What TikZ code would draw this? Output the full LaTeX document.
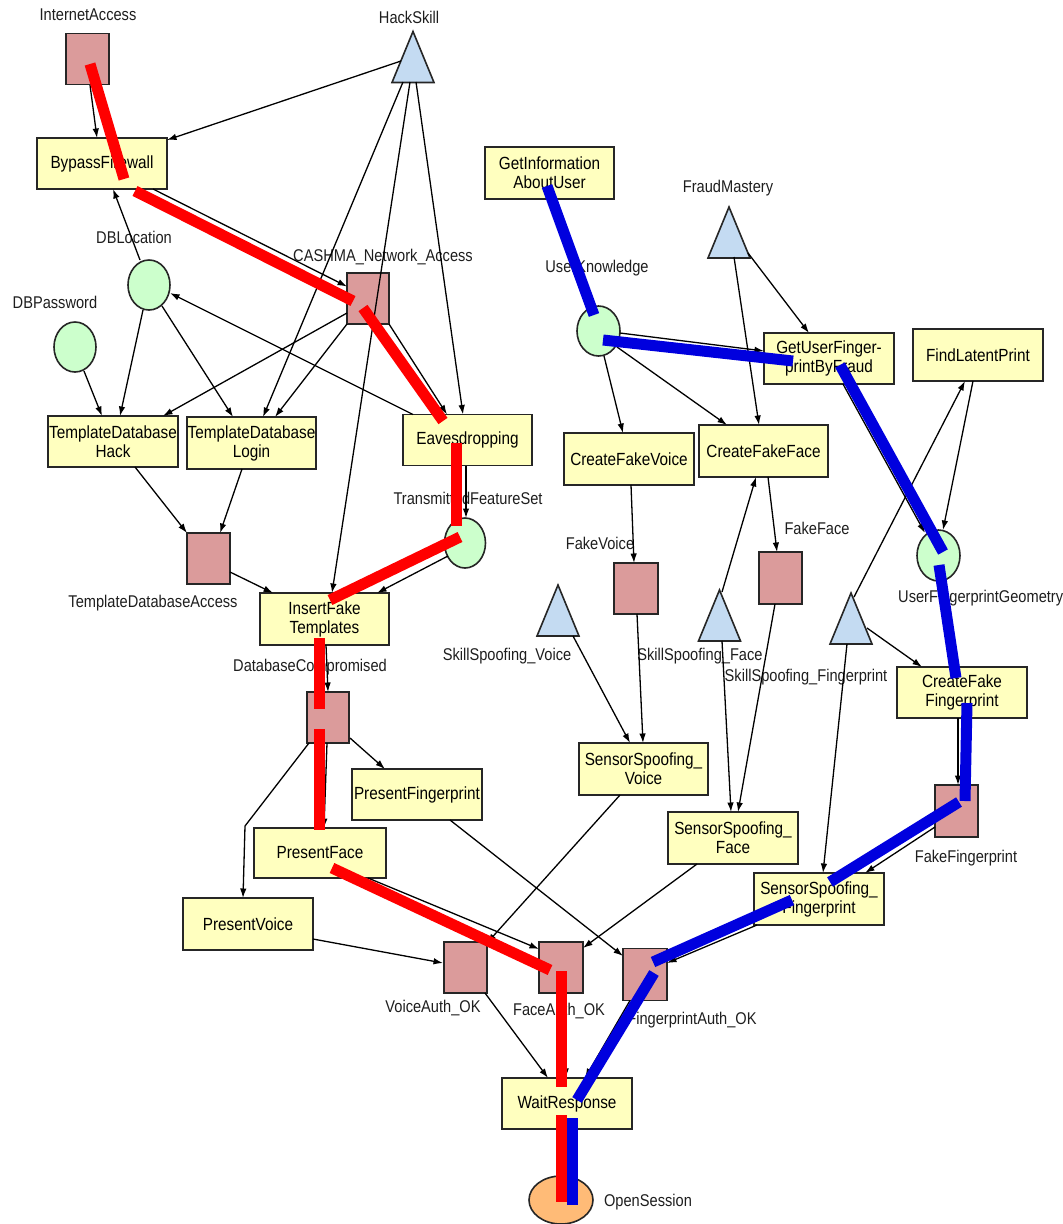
\documentclass[tikz,border=0pt]{standalone}
\usepackage{fontspec}
\setmainfont{Liberation Sans}[FakeStretch=0.86]
\newfontfamily\boxfont{Liberation Sans}[FakeStretch=0.87]
\usetikzlibrary{calc,arrows.meta,shapes.geometric}

\definecolor{boxfill}{RGB}{255,255,191}
\definecolor{evfill}{RGB}{219,155,155}
\definecolor{knfill}{RGB}{204,255,204}
\definecolor{skfill}{RGB}{196,219,242}
\definecolor{goalfill}{RGB}{255,187,119}
\definecolor{redpath}{RGB}{255,0,0}
\definecolor{bluepath}{RGB}{0,0,222}
\definecolor{lbltext}{RGB}{30,30,30}

\tikzset{
  txt/.style={font=\boxfont\fontsize{17.6}{19}\selectfont, align=center, text=black},
  actbox/.style={txt, draw=black!85, line width=1.6pt, fill=boxfill, rectangle, inner sep=0pt,
                 minimum width=130pt, minimum height=51pt},
  evsq/.style={draw=black!85, line width=1.6pt, fill=evfill, rectangle, inner sep=0pt,
               minimum width=43pt, minimum height=51pt},
  kncirc/.style={draw=black!85, line width=1.6pt, fill=knfill, ellipse, inner sep=0pt,
                 minimum width=42pt, minimum height=50pt},
  goal/.style={draw=black!85, line width=1.6pt, fill=goalfill, ellipse, inner sep=0pt,
               minimum width=64pt, minimum height=48pt},
  tri/.style={draw=black!85, line width=1.6pt, fill=skfill, line join=miter},
  lbl/.style={font=\fontsize{17}{19}\selectfont, text=lbltext, inner sep=0pt},
  edge/.style={draw=black, line width=1.3pt, -{Latex[length=9.5pt,width=6.5pt]}},
  redhl/.style={draw=redpath, line width=11pt, line cap=butt},
  bluehl/.style={draw=bluepath, line width=11pt, line cap=butt},
}

\newcommand\skilltri[3]{%
  \coordinate (#1) at (#2,#3);
  \draw[tri] ($(#1)+(0,-25.5)$) -- ($(#1)+(21,25.5)$) -- ($(#1)+(-21,25.5)$) -- cycle;}

\begin{document}
\begin{tikzpicture}[x=1pt,y=-1pt]
\useasboundingbox (0,0) rectangle (1063,1224);
\fill[white] (0,0) rectangle (1063,1224);

% ---------- left branch: template database attack ----------
\node[evsq] (inet) at (87.5,59) {};
\node[lbl] (inet-l) at (88,15) {InternetAccess};
\skilltri{hack}{413}{57}
\node[lbl] (hack-l) at (409,17) {HackSkill};
\node[actbox] (bypass) at (102,163.5) {BypassFirewall};
\node[kncirc] (dbloc) at (149,285) {};
\node[lbl] (dbloc-l) at (134,237) {DBLocation};
\node[kncirc] (dbpass) at (75,347) {};
\node[lbl] (dbpass-l) at (55,302) {DBPassword};
\node[evsq, minimum width=42pt] (cashma) at (368,298.5) {};
\node[lbl] (cashma-l) at (383,257) {CASHMA\_Network\_Access};
\node[actbox] (tdhack) at (113,441.5) {TemplateDatabase\\Hack};
\node[actbox, minimum width=129pt, minimum height=52pt] (tdlogin) at (251.5,443) {TemplateDatabase\\Login};
\node[actbox, minimum width=129pt] (eaves) at (467.5,440) {Eavesdropping};
\node[kncirc, minimum width=41pt] (tfs) at (465,543) {};
\node[lbl] (tfs-l) at (468,498) {TransmittedFeatureSet};
\node[evsq] (tdacc) at (208.5,558.5) {};
\node[lbl] (tdacc-l) at (153,603) {TemplateDatabaseAccess};
\node[actbox, minimum width=129pt, minimum height=52pt] (ift) at (324.5,619) {InsertFake\\Templates};
\node[evsq, minimum width=42pt] (dbcomp) at (328,717.5) {};
\node[lbl] (dbcomp-l) at (310,667) {DatabaseCompromised};
\node[actbox] (presfp) at (417,794.5) {PresentFingerprint};
\node[actbox, minimum width=132pt, minimum height=50pt] (presface) at (320,853) {PresentFace};
\node[actbox, minimum height=52pt] (presvoice) at (248,924) {PresentVoice};

% ---------- authentication and goal ----------
\node[evsq] (voiceok) at (465.5,967.5) {};
\node[lbl] (voiceok-l) at (433,1008) {VoiceAuth\_OK};
\node[evsq, minimum width=44pt] (faceok) at (561,967.5) {};
\node[lbl] (faceok-l) at (559,1011) {FaceAuth\_OK};
\node[evsq, minimum width=44pt, minimum height=52pt] (fpok) at (645,974.5) {};
\node[lbl] (fpok-l) at (692,1020) {FingerprintAuth\_OK};
\node[actbox] (wait) at (567,1103.5) {WaitResponse};
\node[goal] (open) at (561,1200) {};
\node[lbl] (open-l) at (648,1202) {OpenSession};

% ---------- right branch: spoofing ----------
\node[actbox, minimum width=129pt, minimum height=52pt] (getinfo) at (549.5,173) {GetInformation\\AboutUser};
\skilltri{fraud}{729}{232.5}
\node[lbl] (fraud-l) at (728,188) {FraudMastery};
\node[kncirc, minimum width=43pt] (userk) at (598.5,331) {};
\node[lbl] (userk-l) at (597,268) {UserKnowledge};
\node[actbox] (getfp) at (829,358.5) {GetUserFinger-\\printByFraud};
\node[actbox, minimum height=52pt] (findlat) at (978,355) {FindLatentPrint};
\node[actbox, minimum height=52pt] (cfvoice) at (629,459) {CreateFakeVoice};
\node[actbox, minimum width=129pt, minimum height=52pt] (cfface) at (763.5,451) {CreateFakeFace};
\node[evsq, minimum width=44pt] (fakevoice) at (636,588.5) {};
\node[lbl] (fakevoice-l) at (600,543) {FakeVoice};
\node[evsq, minimum height=52pt] (fakeface) at (780.5,578) {};
\node[lbl] (fakeface-l) at (817,528) {FakeFace};
\node[kncirc, minimum width=43pt, minimum height=51pt] (ufg) at (938.5,555.5) {};
\node[lbl, anchor=west] (ufg-l) at (898,598) {UserFingerprintGeometry};
\skilltri{ssv}{558}{610.5}
\node[lbl] (ssv-l) at (507,656) {SkillSpoofing\_Voice};
\skilltri{ssf}{719.5}{615.5}
\node[lbl] (ssf-l) at (700,656) {SkillSpoofing\_Face};
\skilltri{ssfpt}{851}{618.5}
\node[lbl] (ssfpt-l) at (806,677) {SkillSpoofing\_Fingerprint};
\node[actbox] (cffp) at (962,692.5) {CreateFake\\Fingerprint};
\node[actbox, minimum width=129pt, minimum height=52pt] (ssvoice) at (643.5,769) {SensorSpoofing\_\\Voice};
\node[actbox, minimum height=52pt] (ssface) at (733,838) {SensorSpoofing\_\\Face};
\node[evsq, minimum height=52pt] (fakefp) at (956.5,811) {};
\node[lbl] (fakefp-l) at (966,858) {FakeFingerprint};
\node[actbox, minimum height=52pt] (ssfp) at (819,899) {SensorSpoofing\_\\Fingerprint};

% ---------- connectors ----------
\draw[edge] ($(inet)+(2.5,26)$) -- ($(bypass)+(-5,-25.5)$);
\draw[edge] ($(hack)+(-12,4)$) -- ($(bypass)+(65,-23.5)$);
\draw[edge] ($(hack)+(-10,25)$) -- ($(tdlogin)+(11.5,-26)$);
\draw[edge] ($(hack)+(-3,25)$) -- ($(ift)+(7.5,-26)$);
\draw[edge] ($(hack)+(3,25)$) -- ($(eaves)+(-4.5,-25.5)$);
\draw[edge] ($(bypass)+(51,25.5)$) -- ($(cashma)+(-21,-12)$);
\draw[edge] ($(dbloc)+(-9,-25)$) -- ($(bypass)+(11,25.5)$);
\draw[edge] ($(dbloc)+(-6,25)$) -- ($(tdhack)+(7,-25.5)$);
\draw[edge] ($(dbloc)+(13,21)$) -- ($(tdlogin)+(-18.5,-26)$);
\draw[edge] ($(eaves)+(-54.5,-25.5)$) -- ($(dbloc)+(21,8)$);
\draw[edge] ($(dbpass)+(9,24)$) -- ($(tdhack)+(-11,-25.5)$);
\draw[edge] ($(cashma)+(-21,14.5)$) -- ($(tdhack)+(50,-25.5)$);
\draw[edge] ($(cashma)+(-21,25.5)$) -- ($(tdlogin)+(23.5,-26)$);
\draw[edge] ($(cashma)+(21,25.5)$) -- ($(eaves)+(-20.5,-25.5)$);
\draw[edge] ($(tdhack)+(22,25.5)$) -- ($(tdacc)+(-21.5,-25.5)$);
\draw[edge] ($(tdlogin)+(-9.5,26)$) -- ($(tdacc)+(11.5,-25.5)$);
\draw[edge] ($(tdacc)+(21.5,13.5)$) -- ($(ift)+(-51.5,-26)$);
\draw[edge] ($(eaves)+(-1.5,25.5)$) -- ($(tfs)+(1,-25)$);
\draw[edge] ($(tfs)+(-17,13)$) -- ($(ift)+(52.5,-26)$);
\draw[edge] ($(ift)+(1.5,26)$) -- ($(dbcomp)+(0,-25.5)$);
\draw[edge] ($(dbcomp)+(22,20.5)$) -- ($(presfp)+(-32,-25.5)$);
\draw[edge] ($(dbcomp)+(-1,25.5)$) -- ($(presface)+(4,-25)$);
\draw[edge] ($(dbcomp)+(-19,25.5)$) -- ($(presvoice)+(-3,-98)$) -- ($(presvoice)+(-5,-26)$);
\draw[edge] ($(presvoice)+(65,15)$) -- ($(voiceok)+(-22.5,-4.5)$);
\draw[edge] ($(presface)+(48,25)$) -- ($(faceok)+(-22,-18.5)$);
\draw[edge] ($(presfp)+(33,25.5)$) -- ($(fpok)+(-22,-18.5)$);
\draw[edge] ($(ssvoice)+(-23.5,26)$) -- ($(voiceok)+(21.5,-24.5)$);
\draw[edge] ($(ssface)+(-36,26)$) -- ($(faceok)+(22,-19.5)$);
\draw[edge] ($(ssfp)+(-62,26)$) -- ($(fpok)+(22,-11.5)$);
\draw[edge] ($(voiceok)+(19.5,25.5)$) -- ($(wait)+(-19,-25.5)$);
\draw[edge] ($(faceok)+(2,25.5)$) -- ($(wait)+(-1,-25.5)$);
\draw[edge] ($(fpok)+(-15,26)$) -- ($(wait)+(18,-25.5)$);
\draw[edge] ($(wait)+(-6,25.5)$) -- ($(open)+(0,-24)$);
\draw[edge] ($(getinfo)+(3.5,26)$) -- ($(userk)+(-8.5,-24)$);
\draw[edge] ($(userk)+(21.5,2)$) -- ($(getfp)+(-65,-7.5)$);
\draw[edge] ($(userk)+(5.5,25)$) -- ($(cfvoice)+(-6,-26)$);
\draw[edge] ($(userk)+(18.5,16)$) -- ($(cfface)+(-36.5,-26)$);
\draw[edge] ($(fraud)+(5,24.5)$) -- ($(cfface)+(-4.5,-26)$);
\draw[edge] ($(fraud)+(19,20.5)$) -- ($(getfp)+(-20,-25.5)$);
\draw[edge] ($(getfp)+(14,25.5)$) -- ($(ufg)+(-13.5,-22.5)$);
\draw[edge] ($(findlat)+(-5,26)$) -- ($(ufg)+(4.5,-25.5)$);
\draw[edge] ($(ssfpt)+(3,-21.5)$) -- ($(findlat)+(-13,26)$);
\draw[edge] ($(ssfpt)+(16,9.5)$) -- ($(cffp)+(-40,-25.5)$);
\draw[edge] ($(ufg)+(1.5,25.5)$) -- ($(cffp)+(-7,-25.5)$);
\draw[edge] ($(cfvoice)+(2,26)$) -- ($(fakevoice)+(-2,-25.5)$);
\draw[edge] ($(cfface)+(4.5,26)$) -- ($(fakeface)+(-3.5,-26)$);
\draw[edge] ($(ssf)+(2.5,-23.5)$) -- ($(cfface)+(-7.5,26)$);
\draw[edge] ($(ssv)+(15,25.5)$) -- ($(ssvoice)+(-13.5,-26)$);
\draw[edge] ($(fakevoice)+(1,25.5)$) -- ($(ssvoice)+(-0.5,-26)$);
\draw[edge] ($(ssf)+(2.5,25.5)$) -- ($(ssface)+(-2,-26)$);
\draw[edge] ($(fakeface)+(-5.5,26)$) -- ($(ssface)+(5,-26)$);
\draw[edge] ($(cffp)+(-4,25.5)$) -- ($(fakefp)+(1.5,-26)$);
\draw[edge] ($(ssfpt)+(-4,25.5)$) -- ($(ssfp)+(4,-26)$);
\draw[edge] ($(fakefp)+(-21.5,16)$) -- ($(ssfp)+(46,-26)$);

% ---------- highlighted attack paths ----------
\draw[redhl] ($(inet)+(2.5,5)$) -- ($(bypass)+(22,15.5)$);
\draw[redhl] ($(bypass)+(33,27.5)$) -- ($(cashma)+(-15,2.5)$);
\draw[redhl] ($(cashma)+(-5,9.5)$) -- ($(eaves)+(-24.5,-19)$);
\draw[redhl] ($(eaves)+(-11.5,3)$) -- ($(tfs)+(-9,-17)$);
\draw[redhl] ($(tfs)+(-5,-6)$) -- ($(ift)+(5.5,-19)$);
\draw[redhl] ($(ift)+(-5.5,19)$) -- ($(dbcomp)+(-9,-8.5)$);
\draw[redhl] ($(dbcomp)+(-9,11.5)$) -- ($(presface)+(-1,-23)$);
\draw[redhl] ($(presface)+(12,15)$) -- ($(faceok)+(-11,2.5)$);
\draw[redhl] ($(faceok)+(0,3.5)$) -- ($(wait)+(-6,-16.5)$);
\draw[redhl] ($(wait)+(-6,11.5)$) -- ($(open)+(0,2)$);

\draw[bluehl] ($(getinfo)+(-2.5,13)$) -- ($(userk)+(-4.5,-16)$);
\draw[bluehl] ($(userk)+(4.5,9)$) -- ($(getfp)+(-36,2.5)$);
\draw[bluehl] ($(getfp)+(11,6.5)$) -- ($(ufg)+(4.5,-3.5)$);
\draw[bluehl] ($(ufg)+(0.5,9.5)$) -- ($(cffp)+(-6,-14.5)$);
\draw[bluehl] ($(cffp)+(5,10.5)$) -- ($(fakefp)+(8.5,-10)$);
\draw[bluehl] ($(fakefp)+(2.5,-9)$) -- ($(ssfp)+(11,-17)$);
\draw[bluehl] ($(ssfp)+(-27,1)$) -- ($(fpok)+(8,-12.5)$);
\draw[bluehl] ($(fpok)+(9,-1.5)$) -- ($(wait)+(10,-3.5)$);
\draw[bluehl] ($(wait)+(5.5,14.5)$) -- ($(open)+(11.5,5)$);
\end{tikzpicture}
\end{document}
